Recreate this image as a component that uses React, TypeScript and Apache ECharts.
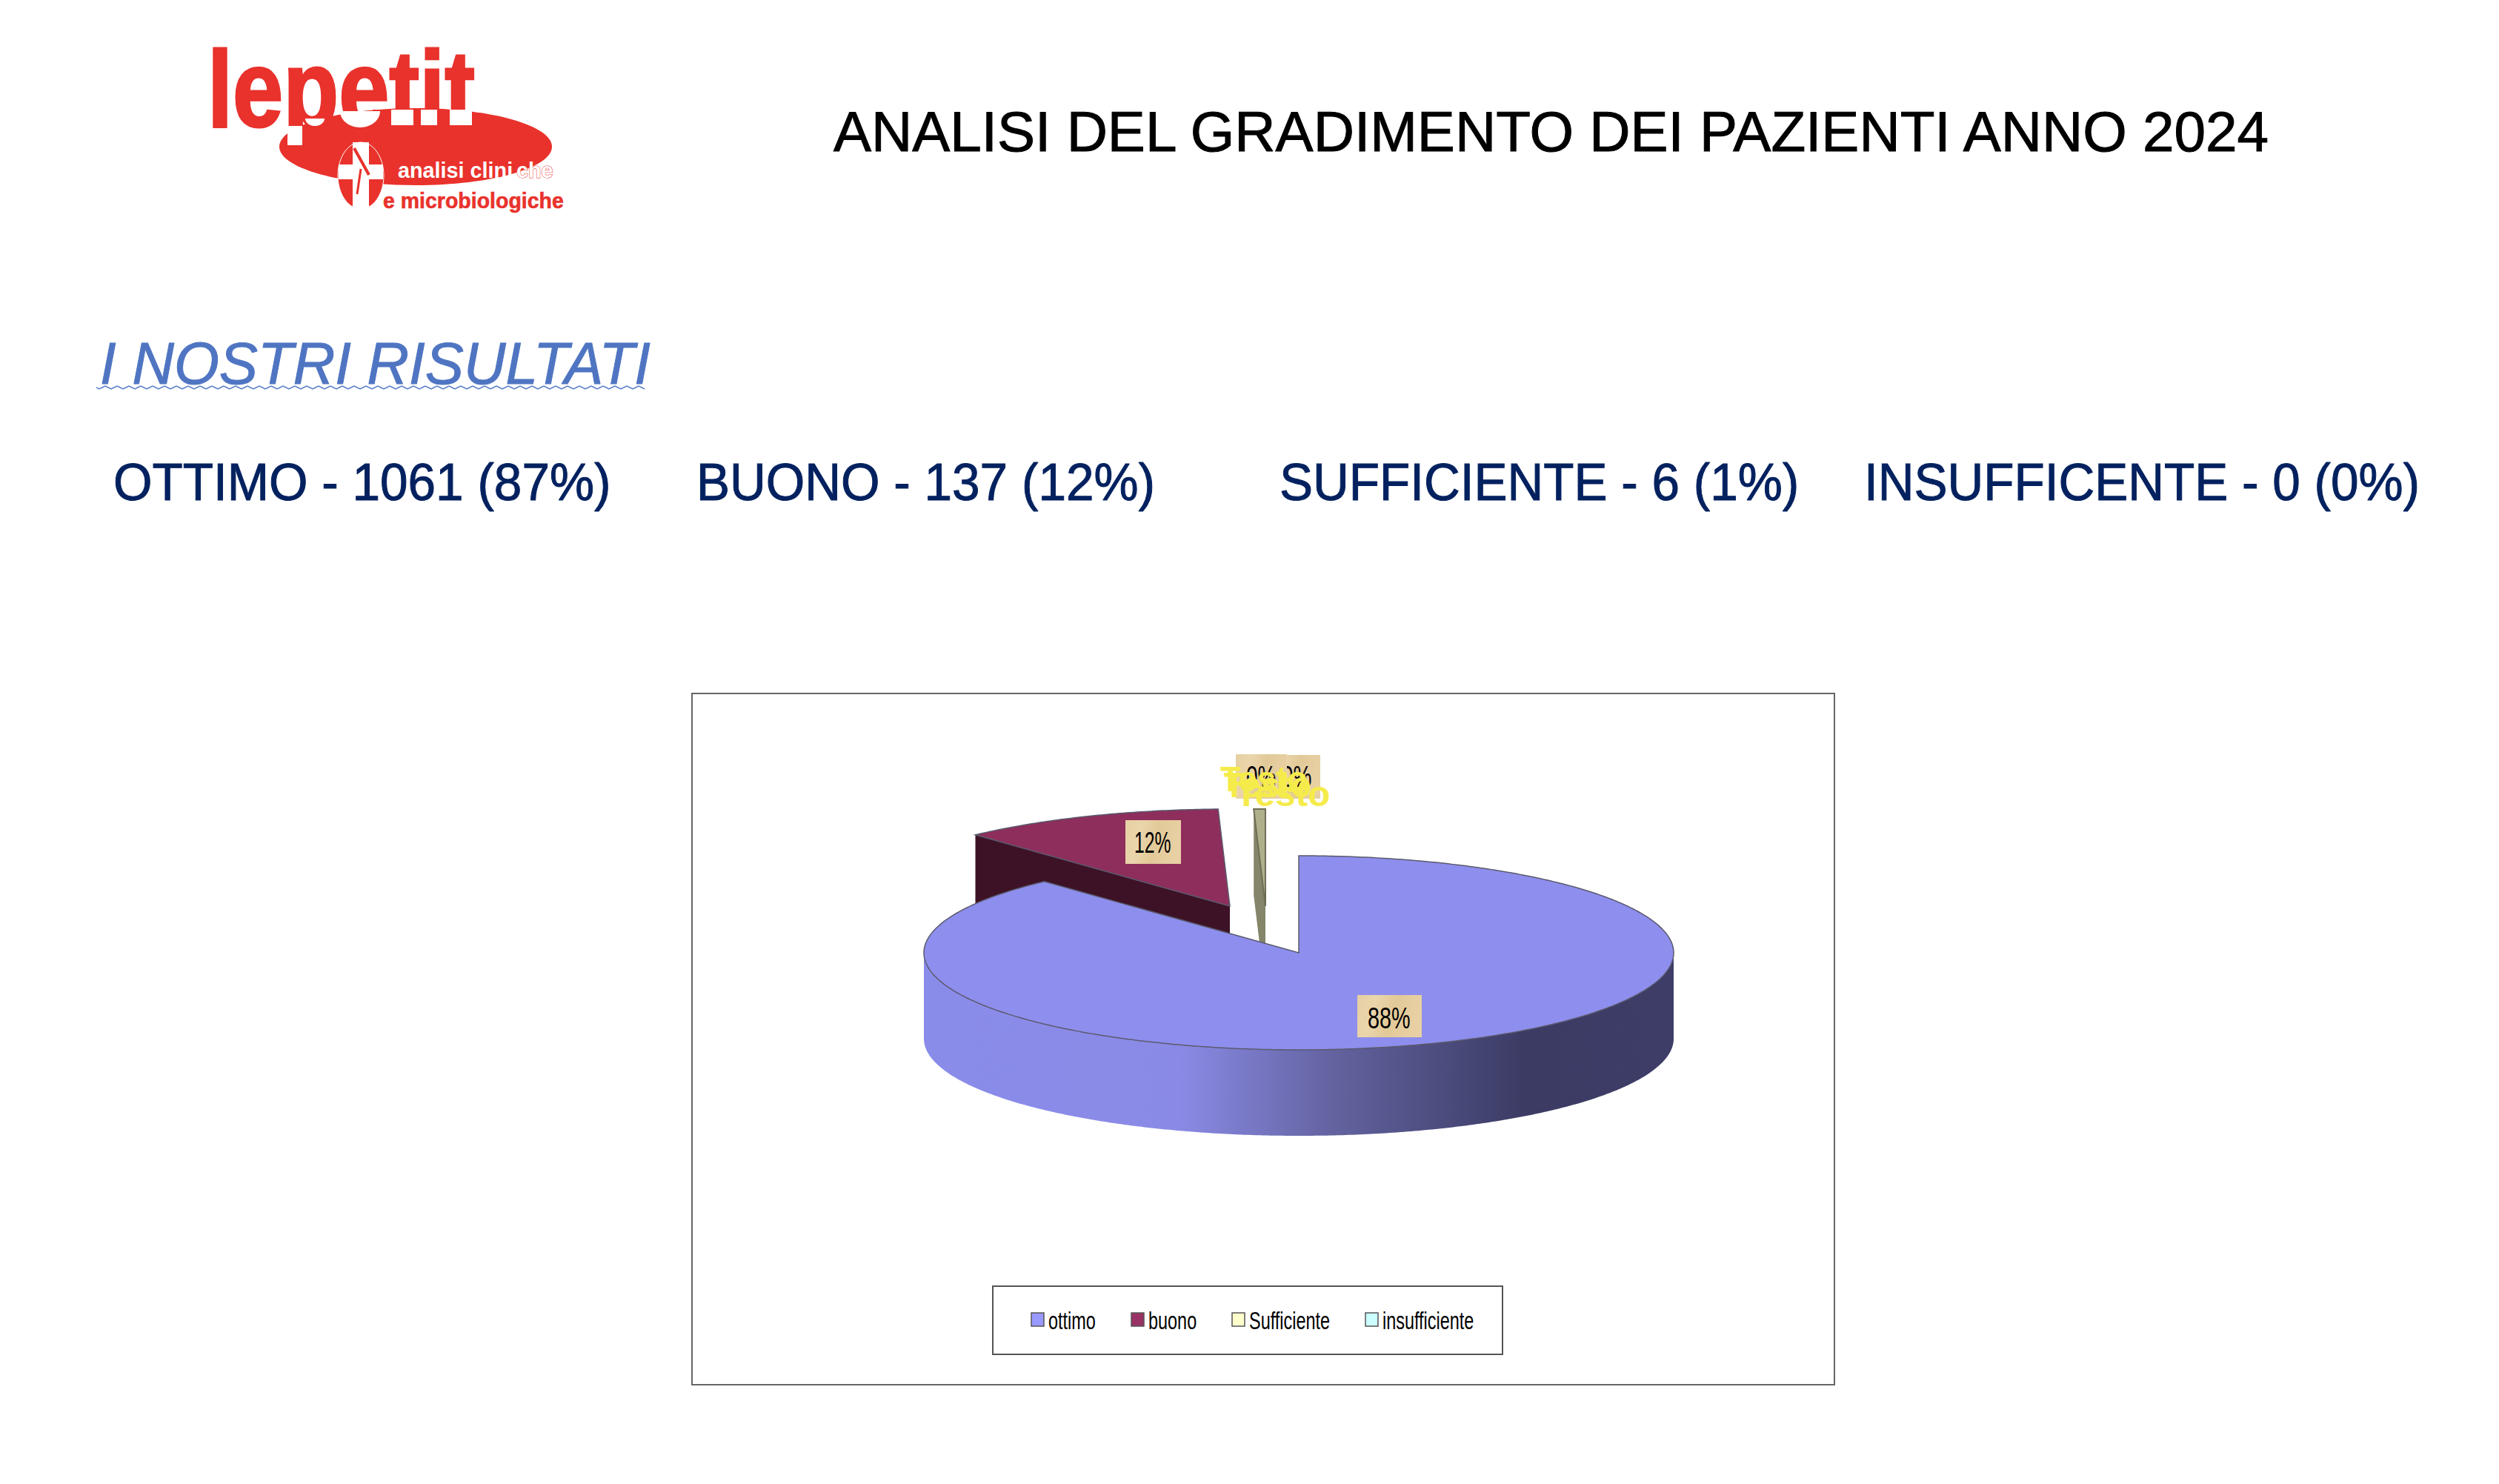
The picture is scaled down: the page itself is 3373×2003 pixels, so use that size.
import React, { useEffect, useRef } from "react";
import * as echarts from "echarts";

const categories = ["ottimo", "buono", "Sufficiente", "insufficiente"];
const counts = [1061, 137, 6, 0];
const sliceLabels = ["88%", "12%", "0%", "0%"];
const overlayLabels = ["Testo", "Testo", "Testo"];
const legendColors = ["#9999FF", "#993366", "#FFFFCC", "#CCFFFF"];
const headline = "ANALISI DEL GRADIMENTO DEI PAZIENTI ANNO 2024";
const sectionTitle = "I NOSTRI RISULTATI";
const statLines = ["OTTIMO - 1061 (87%)", "BUONO - 137 (12%)", "SUFFICIENTE - 6 (1%)", "INSUFFICENTE - 0 (0%)"];

const W = 3373, H = 2003;
const CX = 1753, CY = 1286, RX = 506, RY = 131, DEPTH = 116;
const OFFSETS = [[0, 0], [-93, -63], [-45, -63], [0, 0]];
const TOPS = ["#8E8EEE", "#8E2E5C", "#B0AF8C", "#CCFFFF"];
const WALLS = ["#8E8EEE", "#3E1226", "#85856A", "#99BBBB"];

const pt = (ox: number, oy: number, a: number) => [CX + ox + RX * Math.sin(a), CY + oy - RY * Math.cos(a)];
const arc = (ox: number, oy: number, a0: number, a1: number) => {
  const out: number[][] = [];
  const n = Math.max(2, Math.ceil(Math.abs(a1 - a0) / 0.01));
  for (let i = 0; i <= n; i++) out.push(pt(ox, oy, a0 + ((a1 - a0) * i) / n));
  return out;
};

const renderSlice = (params: any, api: any) => {
  const idx = params.seriesIndex;
  const total = counts.reduce((s, v) => s + v, 0);
  const before = counts.slice(0, idx).reduce((s, v) => s + v, 0);
  const value = api.value(0);
  if (!value) return { type: "group", children: [] };
  const a0 = (before / total) * Math.PI * 2;
  const a1 = ((before + value) / total) * Math.PI * 2;
  const [ox, oy] = OFFSETS[idx];
  const apex = [CX + ox, CY + oy];
  const children: any[] = [];
  if (idx === 0) {
    const top = arc(ox, oy, Math.PI / 2, Math.PI * 1.5);
    const bottom = top.map(([x, y]) => [x, y + DEPTH]).reverse();
    children.push({
      type: "polygon",
      shape: { points: [...top, ...bottom] },
      style: {
        fill: new echarts.graphic.LinearGradient(0, 0, 1, 0, [
          { offset: 0, color: "#8A8CEA" },
          { offset: 0.34, color: "#8A8AE6" },
          { offset: 0.55, color: "#62629F" },
          { offset: 0.8, color: "#3B3B64" },
          { offset: 1, color: "#3D3D68" },
        ]),
      },
    });
  } else {
    const corner = pt(ox, oy, a0);
    children.push({
      type: "polygon",
      shape: { points: [apex, corner, [corner[0], corner[1] + DEPTH], [apex[0], apex[1] + DEPTH]] },
      style: { fill: WALLS[idx] },
    });
  }
  children.push({
    type: "polygon",
    shape: { points: [apex, ...arc(ox, oy, a0, a1)] },
    style: { fill: TOPS[idx], stroke: idx === 2 ? "#6E6E55" : "#5A5A6E", lineWidth: idx === 2 ? 2 : 1.5 },
  });
  return { type: "group", children };
};

// y is the text baseline; the renderer anchors at the top of the line box
const tx = (x: number, y: number, text: string, fontSize: number, fill: string, extra: any = {}, scaleX = 1) => ({
  type: "text", x, y: y - fontSize * 0.846, scaleX, z: 10,
  style: { text, fontSize, fill, fontFamily: "Liberation Sans", textAlign: "left", textVerticalAlign: "top", ...extra },
});
const box = (x: number, y: number, width: number, height: number, style: any) => ({
  type: "rect", z: 10, shape: { x, y, width, height }, style,
});
const wood = () => new echarts.graphic.LinearGradient(0, 0, 1, 0.2, [
  { offset: 0, color: "#E6CFA2" }, { offset: 0.3, color: "#EAD5AC" },
  { offset: 0.6, color: "#E2C998" }, { offset: 1, color: "#E8D0A4" },
]);
const halfEllipse = (cx: number, cy: number, rx: number, ry: number) => {
  const points: number[][] = [];
  for (let i = 0; i <= 24; i++) {
    const a = (Math.PI * i) / 24;
    points.push([cx + rx * Math.cos(a), cy + ry * Math.sin(a)]);
  }
  return { type: "polygon", z: 10, shape: { points }, style: { fill: "#fff" } };
};

const RED = "#E9322C";
const NAVY = "#03215F";
const squiggle: number[][] = [];
for (let x = 130, i = 0; x <= 870; x += 4, i++) squiggle.push([x, 523 + [0, 2, 0, -2][i % 4]]);

const LEGEND_SCALE = 0.69;
const graphics: any[] = [
  box(934, 936, 1542, 933, { fill: "transparent", stroke: "#666", lineWidth: 2 }),
  // logo
  { type: "ellipse", z: 10, shape: { cx: 561, cy: 198, rx: 184, ry: 52 }, style: { fill: RED } },
  tx(280, 171, "lepetit", 146, RED, { fontWeight: "bold", stroke: RED, lineWidth: 3 }, 0.84),
  box(388, 170, 20, 26, { fill: "#fff" }),
  box(528, 148, 30, 21, { fill: "#fff" }),
  box(568, 148, 22, 21, { fill: "#fff" }),
  box(607, 148, 30, 21, { fill: "#fff" }),
  halfEllipse(486, 150, 27, 22),
  halfEllipse(425, 160, 13, 10),
  { type: "ellipse", z: 10, shape: { cx: 487, cy: 237, rx: 31, ry: 45 }, style: { fill: RED, stroke: "#fff", lineWidth: 1 } },
  box(457, 222, 60, 20, { fill: "#fff" }),
  box(476, 192, 22, 90, { fill: "#fff" }),
  { type: "line", z: 10, shape: { x1: 478, y1: 200, x2: 498, y2: 236 }, style: { stroke: RED, lineWidth: 4 } },
  { type: "line", z: 10, shape: { x1: 487, y1: 228, x2: 482, y2: 262 }, style: { stroke: RED, lineWidth: 3 } },
  tx(537, 240, "analisi clini", 30, "#fff", { fontWeight: "bold" }, 0.96),
  tx(697, 240, "che", 30, "#fff", { fontWeight: "bold", stroke: RED, lineWidth: 1 }, 0.96),
  tx(517, 281, "e microbiologiche", 30, RED, { fontWeight: "bold", stroke: RED, lineWidth: 0.6 }, 0.95),
  // section texts
  tx(135, 518, sectionTitle, 79, "#4F75C2", { fontStyle: "italic", stroke: "#4F75C2", lineWidth: 1 }, 0.99),
  { type: "polyline", z: 10, shape: { points: squiggle }, style: { stroke: "#5B7FCB", lineWidth: 1.5, fill: "none" } },
  tx(153, 675, statLines[0], 71, NAVY, { stroke: NAVY, lineWidth: 1 }, 0.951),
  tx(940, 675, statLines[1], 71, NAVY, { stroke: NAVY, lineWidth: 1 }, 0.951),
  tx(1727, 675, statLines[2], 71, NAVY, { stroke: NAVY, lineWidth: 1 }, 0.951),
  tx(2516, 675, statLines[3], 71, NAVY, { stroke: NAVY, lineWidth: 1 }, 0.951),
  // data labels
  box(1832, 1343, 87, 57, { fill: wood() }),
  tx(1846, 1387, sliceLabels[0], 40, "#000", {}, 0.72),
  box(1519, 1107, 75, 59, { fill: wood() }),
  tx(1531, 1151, sliceLabels[1], 40, "#000", {}, 0.62),
  box(1712, 1019, 70, 59, { fill: wood() }),
  tx(1730, 1062, sliceLabels[3], 40, "#000", {}, 0.7),
  box(1668, 1018, 69, 60, { fill: wood() }),
  tx(1682, 1062, sliceLabels[2], 40, "#000", {}, 0.7),
  tx(1647, 1068, overlayLabels[0], 48, "#F5EB4B", { fontWeight: "bold" }, 0.95),
  tx(1652, 1076, overlayLabels[1], 48, "#F5EB4B", { fontWeight: "bold" }, 0.95),
  tx(1667, 1088, overlayLabels[2], 48, "#F5EB4B", { fontWeight: "bold" }, 1.03),
  // legend
  box(1340, 1736, 688, 92, { fill: "#fff", stroke: "#555", lineWidth: 2 }),
  ...categories.flatMap((name, i) => {
    const sx = [1392, 1527, 1663, 1843][i];
    return [
      box(sx, 1772, 17, 18, { fill: legendColors[i], stroke: "#555", lineWidth: 1.5 }),
      tx(sx + 23, 1794, name, 34, "#000", {}, LEGEND_SCALE),
    ];
  }),
];

export default function App() {
  const ref = useRef<HTMLDivElement>(null);
  useEffect(() => {
    const chart = echarts.init(ref.current!, undefined, { renderer: "svg" });
    chart.setOption({
      animation: false,
      backgroundColor: "#fff",
      title: {
        text: headline, left: 1120, top: 134,
        textStyle: {
          color: "#000", fontSize: 76.5, fontWeight: "normal", fontFamily: "Liberation Sans",
          textBorderColor: "#000", textBorderWidth: 1,
        },
      },
      series: categories.map((name, i) => ({
        type: "custom", name, coordinateSystem: "none", silent: true,
        z: i === 0 ? 3 : 2,
        itemStyle: { color: legendColors[i] },
        renderItem: renderSlice,
        data: [counts[i]],
      })),
      graphic: graphics,
    });
    return () => chart.dispose();
  }, []);
  return <div ref={ref} style={{ position: "absolute", left: 0, top: 0, width: W, height: H }} />;
}
